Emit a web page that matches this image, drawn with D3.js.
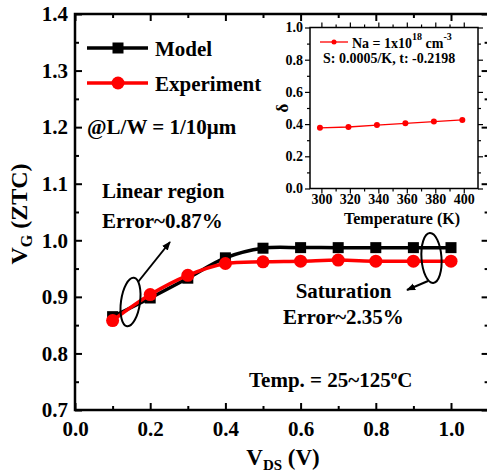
<!DOCTYPE html>
<html><head><meta charset="utf-8">
<script src="https://cdn.jsdelivr.net/npm/d3@7"></script>
<style>
html,body{margin:0;padding:0;background:#fff;}
svg{display:block;}
</style></head>
<body>
<script>
// ---------- data ----------
const vds = [0.1, 0.2, 0.3, 0.4, 0.5, 0.6, 0.7, 0.8, 0.9, 1.0];
const modelVals = [0.865, 0.898, 0.933, 0.969, 0.986, 0.987, 0.987, 0.987, 0.987, 0.987];
const exptVals  = [0.858, 0.904, 0.938, 0.959, 0.962, 0.963, 0.965, 0.963, 0.963, 0.963];
const xTicks = [0.0, 0.2, 0.4, 0.6, 0.8, 1.0];
const yTicks = [0.7, 0.8, 0.9, 1.0, 1.1, 1.2, 1.3, 1.4];
const insetTemps = [299, 319, 339, 359, 379, 399];
const insetDelta = [0.377, 0.382, 0.394, 0.405, 0.416, 0.426];
const insetXTicks = [300, 320, 340, 360, 380, 400];
const insetYTicks = [0.0, 0.2, 0.4, 0.6, 0.8, 1.0];

const W = 487, H = 472;
const svg = d3.select("body").append("svg").attr("width", W).attr("height", H)
  .attr("font-family", "Liberation Serif").attr("font-weight", "bold");

svg.append("defs").append("marker").attr("id","arr").attr("viewBox","0 0 10 10")
  .attr("refX",9).attr("refY",5).attr("markerWidth",9).attr("markerHeight",9)
  .attr("markerUnits","userSpaceOnUse").attr("orient","auto")
  .append("path").attr("d","M0,1 L10,5 L0,9 Z").attr("fill","#000");

// ---------- main plot ----------
const x = d3.scaleLinear().domain([0, 1.1]).range([75, 488.6]);
const y = d3.scaleLinear().domain([0.7, 1.4]).range([410, 14]);
const fmt = d3.format(".1f");
const isMajX = d => xTicks.some(t => Math.abs(t - d) < 1e-9);
const isMajY = d => yTicks.some(t => Math.abs(t - d) < 1e-9);

const gx = svg.append("g").attr("transform", `translate(0,${y(0.7)})`)
  .call(d3.axisBottom(x).tickValues(d3.range(0, 1.11, 0.1)).tickSize(-6).tickPadding(11)
    .tickFormat(d => isMajX(d) ? fmt(d) : ""));
gx.selectAll(".tick line").attr("stroke-width", 2).attr("y2", d => isMajX(d) ? -7 : -4);
gx.selectAll("text").attr("font-size", 21);
gx.select(".domain").remove();

const gt = svg.append("g").attr("transform", `translate(0,${y(1.4)})`)
  .call(d3.axisTop(x).tickValues(d3.range(0, 1.11, 0.1)).tickSize(-6).tickFormat(""));
gt.selectAll(".tick line").attr("stroke-width", 2).attr("y2", d => isMajX(d) ? 7 : 4);
gt.select(".domain").remove();

const gy = svg.append("g").attr("transform", `translate(${x(0)},0)`)
  .call(d3.axisLeft(y).tickValues(d3.range(0.7, 1.401, 0.05)).tickSize(-6).tickPadding(7)
    .tickFormat(d => isMajY(d) ? fmt(d) : ""));
gy.selectAll(".tick line").attr("stroke-width", 2).attr("x2", d => isMajY(d) ? 7 : 4);
gy.selectAll("text").attr("font-size", 21);
gy.select(".domain").remove();

const gr = svg.append("g").attr("transform", `translate(${x(1.1)},0)`)
  .call(d3.axisRight(y).tickValues(d3.range(0.7, 1.401, 0.05)).tickSize(-6).tickFormat(""));
gr.selectAll(".tick line").attr("stroke-width", 2).attr("x2", d => isMajY(d) ? -7 : -4);
gr.select(".domain").remove();

svg.append("rect").attr("x", x(0)).attr("y", y(1.4))
  .attr("width", x(1.1) - x(0)).attr("height", y(0.7) - y(1.4))
  .attr("fill","none").attr("stroke","#000").attr("stroke-width", 2.5);

// series
const line = d3.line().x((d,i) => x(vds[i])).y(d => y(d)).curve(d3.curveCatmullRom);
svg.append("path").attr("d", line(modelVals)).attr("fill","none").attr("stroke","#000").attr("stroke-width",3.5);
svg.append("g").selectAll("rect").data(modelVals).join("rect")
  .attr("x",(d,i)=>x(vds[i])-5.5).attr("y",d=>y(d)-5.5).attr("width",11).attr("height",11).attr("fill","#000");
svg.append("path").attr("d", line(exptVals)).attr("fill","none").attr("stroke","#ff0000").attr("stroke-width",3.5);
svg.append("g").selectAll("circle").data(exptVals).join("circle")
  .attr("cx",(d,i)=>x(vds[i])).attr("cy",d=>y(d)).attr("r",6.5).attr("fill","#ff0000");

// legend
const lg = svg.append("g");
lg.append("line").attr("x1",87).attr("x2",148).attr("y1",48).attr("y2",48).attr("stroke","#000").attr("stroke-width",3.5);
lg.append("rect").attr("x",112.5).attr("y",42.5).attr("width",11).attr("height",11).attr("fill","#000");
lg.append("text").attr("x",155).attr("y",56).attr("font-size",21).text("Model");
lg.append("line").attr("x1",87).attr("x2",148).attr("y1",83).attr("y2",83).attr("stroke","#ff0000").attr("stroke-width",3.5);
lg.append("circle").attr("cx",118).attr("cy",83).attr("r",6.5).attr("fill","#ff0000");
lg.append("text").attr("x",155).attr("y",91).attr("font-size",21).text("Experiment");

svg.append("text").attr("x",87).attr("y",134).attr("font-size",21).text("@L/W = 1/10\u03bcm");

// annotations
svg.append("text").attr("x",102).attr("y",198).attr("font-size",21).text("Linear region");
svg.append("text").attr("x",102).attr("y",228).attr("font-size",21).text("Error~0.87%");
svg.append("ellipse").attr("cx",130.5).attr("cy",302).attr("rx",9.5).attr("ry",24.5)
  .attr("transform","rotate(8,130.5,302)").attr("fill","none").attr("stroke","#000").attr("stroke-width",2);
svg.append("line").attr("x1",138).attr("y1",282).attr("x2",170).attr("y2",242)
  .attr("stroke","#000").attr("stroke-width",2).attr("marker-end","url(#arr)");

svg.append("text").attr("x",343.5).attr("y",298).attr("font-size",21).attr("text-anchor","middle").text("Saturation");
svg.append("text").attr("x",343.5).attr("y",324).attr("font-size",21).attr("text-anchor","middle").text("Error~2.35%");
svg.append("ellipse").attr("cx",431.5).attr("cy",258).attr("rx",10).attr("ry",25)
  .attr("transform","rotate(-4,431.5,258)").attr("fill","none").attr("stroke","#000").attr("stroke-width",2);
svg.append("line").attr("x1",428).attr("y1",281).attr("x2",407).attr("y2",290)
  .attr("stroke","#000").attr("stroke-width",2).attr("marker-end","url(#arr)");

const tt = svg.append("text").attr("x",249).attr("y",387).attr("font-size",21);
tt.append("tspan").text("Temp. = 25~125");
tt.append("tspan").attr("font-size",13).attr("dy",-8).text("o");
tt.append("tspan").attr("dy",8).text("C");

// axis titles
const xt = svg.append("text").attr("x",283).attr("y",465).attr("font-size",23).attr("text-anchor","middle");
xt.append("tspan").text("V");
xt.append("tspan").attr("font-size",15).attr("dy",5).text("DS");
xt.append("tspan").attr("dy",-5).text(" (V)");

const yt = svg.append("text").attr("transform","translate(27,214) rotate(-90)").attr("font-size",24).attr("text-anchor","middle");
yt.append("tspan").text("V");
yt.append("tspan").attr("font-size",16).attr("dy",5).text("G");
yt.append("tspan").attr("dy",-5).text(" (ZTC)");

// ---------- inset ----------
const ix = d3.scaleLinear().domain([292, 410]).range([310, 478]);
const iy = d3.scaleLinear().domain([0, 1]).range([188.5, 27.5]);
const isMajIX = d => insetXTicks.includes(d);
const isMajIY = d => insetYTicks.some(t => Math.abs(t-d)<1e-9);
const ins = svg.append("g");
ins.append("rect").attr("x",ix(292)).attr("y",iy(1)).attr("width",ix(410)-ix(292)).attr("height",iy(0)-iy(1))
  .attr("fill","#fff");

const ixa = ins.append("g").attr("transform",`translate(0,${iy(0)})`)
  .call(d3.axisBottom(ix).tickValues(d3.range(300, 401, 10)).tickSize(4).tickPadding(2)
    .tickFormat(d => isMajIX(d) ? d : ""));
ixa.selectAll(".tick line").attr("stroke-width",1.2).attr("y2", d => isMajIX(d) ? 5 : 3);
ixa.selectAll("text").attr("font-size",14);
ixa.select(".domain").remove();

const ixt = ins.append("g").attr("transform",`translate(0,${iy(1)})`)
  .call(d3.axisTop(ix).tickValues(d3.range(300, 401, 10)).tickSize(4).tickFormat(""));
ixt.selectAll(".tick line").attr("stroke-width",1.2).attr("y2", d => isMajIX(d) ? -5 : -3);
ixt.select(".domain").remove();

const iya = ins.append("g").attr("transform",`translate(${ix(292)},0)`)
  .call(d3.axisLeft(iy).tickValues(d3.range(0, 1.001, 0.1)).tickSize(4).tickPadding(3)
    .tickFormat(d => isMajIY(d) ? d3.format(".1f")(d) : ""));
iya.selectAll(".tick line").attr("stroke-width",1.2).attr("x2", d => isMajIY(d) ? -5 : -3);
iya.selectAll("text").attr("font-size",14);
iya.select(".domain").remove();

const iyr = ins.append("g").attr("transform",`translate(${ix(410)},0)`)
  .call(d3.axisRight(iy).tickValues(d3.range(0, 1.001, 0.1)).tickSize(4).tickFormat(""));
iyr.selectAll(".tick line").attr("stroke-width",1.2).attr("x2", d => isMajIY(d) ? 5 : 3);
iyr.select(".domain").remove();

ins.append("rect").attr("x",ix(292)).attr("y",iy(1)).attr("width",ix(410)-ix(292)).attr("height",iy(0)-iy(1))
  .attr("fill","none").attr("stroke","#000").attr("stroke-width",1.5);

const iline = d3.line().x((d,i)=>ix(insetTemps[i])).y(d=>iy(d));
ins.append("path").attr("d", iline(insetDelta)).attr("fill","none").attr("stroke","#ff0000").attr("stroke-width",1.3);
ins.append("g").selectAll("circle").data(insetDelta).join("circle")
  .attr("cx",(d,i)=>ix(insetTemps[i])).attr("cy",d=>iy(d)).attr("r",3).attr("fill","#ff0000");

// inset legend
ins.append("line").attr("x1",320).attr("x2",348).attr("y1",42).attr("y2",42).attr("stroke","#ff0000").attr("stroke-width",1.3);
ins.append("circle").attr("cx",334).attr("cy",42).attr("r",2.5).attr("fill","#ff0000");
const nt = ins.append("text").attr("x",352).attr("y",48).attr("font-size",14);
nt.append("tspan").text("Na = 1x10");
nt.append("tspan").attr("font-size",10).attr("dy",-8).text("18");
nt.append("tspan").attr("dy",8).text(" cm");
nt.append("tspan").attr("font-size",10).attr("dy",-8).text("-3");
ins.append("text").attr("x",323).attr("y",63).attr("font-size",14).text("S: 0.0005/K, t: -0.2198");

ins.append("text").attr("x",402).attr("y",224).attr("font-size",16).attr("text-anchor","middle").text("Temperature (K)");
ins.append("text").attr("transform",`translate(288,${(iy(0)+iy(1))/2}) rotate(-90)`).attr("font-size",17)
  .attr("text-anchor","middle").text("\u03b4");

// serif font on every text
svg.selectAll("text")
  .attr("font-family", null)
  .style("font-family", "'Liberation Serif', 'DejaVu Serif', serif")
  .style("font-weight", "bold")
  .attr("fill", "#000");
svg.selectAll("g").attr("font-family", null);
</script>
</body></html>
